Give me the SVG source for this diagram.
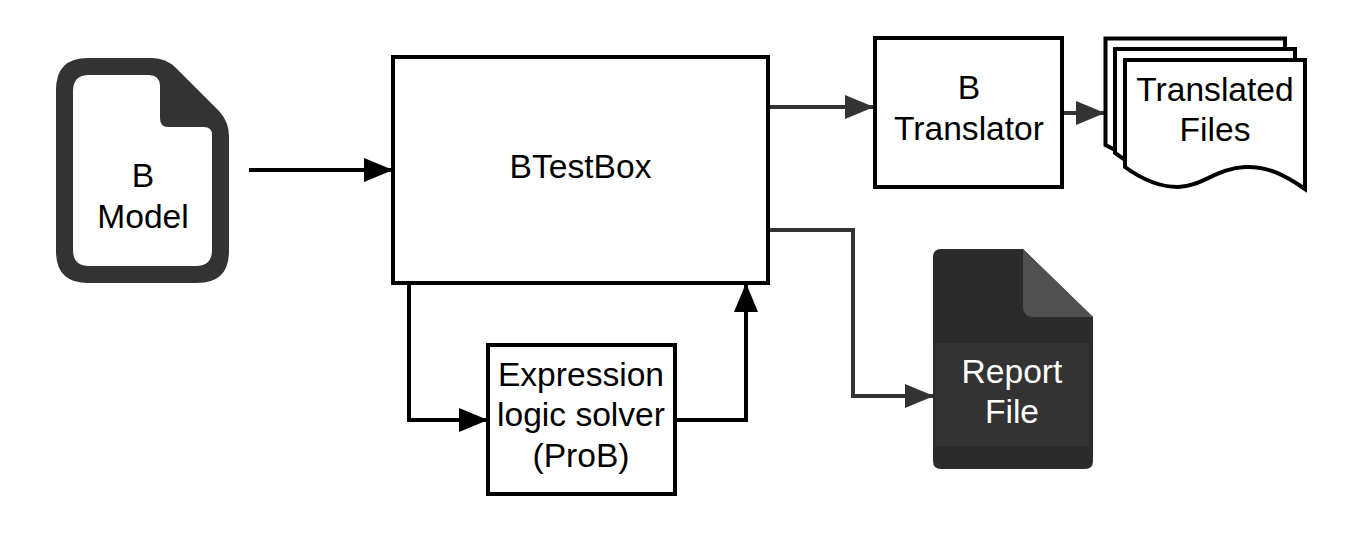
<svg xmlns="http://www.w3.org/2000/svg" width="1350" height="538" viewBox="0 0 1350 538">
<style>
text{font-family:"Liberation Sans",Arial,sans-serif;font-size:33.600px;text-anchor:middle;fill:#000}
.box{fill:#fff;stroke:#000;stroke-width:4}
.k{fill:none;stroke:#000;stroke-width:4}
.g{fill:none;stroke:#333;stroke-width:4}
.doc{fill:#fff;stroke:#000;stroke-width:4}
</style>
<defs>
<marker id="ak" markerUnits="userSpaceOnUse" markerWidth="30" markerHeight="26" refX="29" refY="13" orient="auto"><path d="M0 1L29 13L0 25Z" fill="#000"/></marker>
<marker id="ag" markerUnits="userSpaceOnUse" markerWidth="30" markerHeight="26" refX="29" refY="13" orient="auto"><path d="M0 1L29 13L0 25Z" fill="#333"/></marker>
</defs>
<rect width="1350" height="538" fill="#fff"/>
<g id="connectors">
<path class="k" d="M249 170H393" marker-end="url(#ak)"/>
<path class="g" d="M768 107H874" marker-end="url(#ag)"/>
<path class="g" d="M1063 113H1105" marker-end="url(#ag)"/>
<path class="g" d="M768 230H853V396H934" marker-end="url(#ag)"/>
<path class="k" d="M409 284V420H488" marker-end="url(#ak)"/>
<path class="k" d="M677 420H746V283" marker-end="url(#ak)"/>
</g>
<g id="b-model">
<path fill-rule="evenodd" fill="#333" d="M88 58H152Q166 58 176 68L219 111Q229 122 229 136V251Q229 283 197 283H88Q56 283 56 251V90Q56 58 88 58ZM89 75Q73 75 73 91V250Q73 266 89 266H196Q212 266 212 250V135Q212 127 204 127H168Q160 127 160 118V85Q159 75 149 75Z"/>
<text x="143" y="187">B</text>
<text x="143" y="228">Model</text>
</g>
<g id="btestbox">
<rect class="box" x="393" y="57" width="375" height="226"/>
<text x="580.500" y="178">BTestBox</text>
</g>
<g id="b-translator">
<rect class="box" x="875" y="38" width="187" height="149"/>
<text x="969" y="99">B</text>
<text x="969" y="140">Translator</text>
</g>
<g id="translated-files">
<path class="doc" d="M1105.500 145V38.500H1285V60H1125V155Z"/>
<path class="doc" d="M1115 153V49H1295V70H1125V160Z"/>
<path class="doc" d="M1125 60H1305V189C1285 175 1267 166 1245 167C1218 168 1200 187 1178 187C1158 187 1140 178 1125 167Z"/>
<text x="1215" y="101">Translated</text>
<text x="1215" y="141">Files</text>
</g>
<g id="report-file">
<path fill="#2b2b2b" d="M941 249H1023L1093 317V461Q1093 469 1085 469H941Q933 469 933 461V257Q933 249 941 249Z"/>
<path fill="#505050" d="M1023 249L1093 317H1034Q1023 317 1023 306Z"/>
<rect x="935" y="343" width="154" height="103" fill="#333"/>
<text x="1012" y="383" style="fill:#fff">Report</text>
<text x="1012" y="423" style="fill:#fff">File</text>
</g>
<g id="solver">
<rect class="box" x="488" y="345" width="187" height="149"/>
<text x="581" y="386">Expression</text>
<text x="581" y="426">logic solver</text>
<text x="581" y="467">(ProB)</text>
</g>
</svg>
